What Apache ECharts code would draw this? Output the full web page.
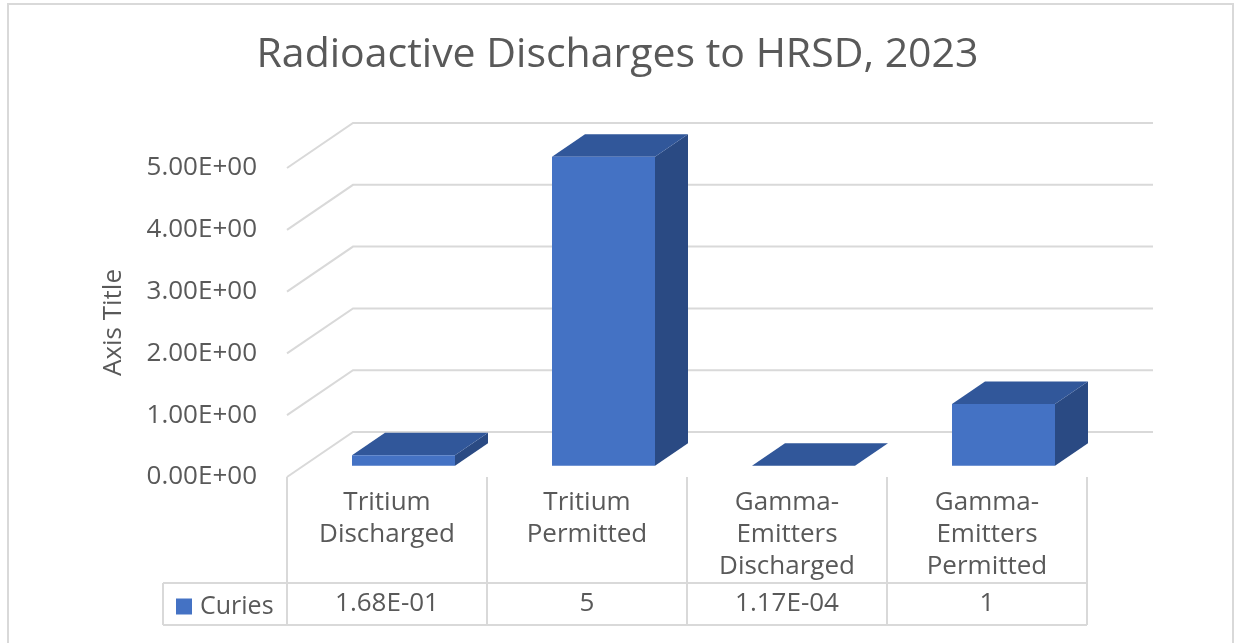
<!DOCTYPE html>
<html>
<head>
<meta charset="utf-8">
<script src="https://cdn.jsdelivr.net/npm/echarts@6/dist/echarts.min.js"></script>
<style>
html,body{margin:0;padding:0;background:#fff;}
#c{width:1235px;height:643px;}
</style>
</head>
<body>
<div id="c"></div>
<script>
// ---- data ----
var categories = ['Tritium Discharged', 'Tritium Permitted', 'Gamma-Emitters Discharged', 'Gamma-Emitters Permitted'];
var curies = [0.168, 5, 0.000117, 1];
var yTicks = [0, 1, 2, 3, 4, 5];
var seriesName = 'Curies';
var titleText = 'Radioactive Discharges to HRSD, 2023';
var yAxisName = 'Axis Title';

// ---- style constants ----
var FONT = '"Open Sans", "Noto Sans", sans-serif';
var TXT = '#595959';
var GRIDC = '#d9d9d9';
var FRONT = '#4472C4', TOP = '#31579A', SIDE = '#2A4A83';
var FLOOR_DX = 66, FLOOR_DY = -45;   // full depth of the 3D floor
var BAR_FRAC = 0.515;                // front-face width / band width

function sciLabel(v) {
  var parts = v.toExponential(2).split('e');
  var e = parts[1];
  var sign = e[0] === '-' ? '-' : '+';
  var d = e.replace(/^[+-]/, '');
  if (d.length < 2) d = '0' + d;
  return parts[0] + 'E' + sign + d;
}
function generalLabel(v) {
  return Number.isInteger(v) ? String(v) : sciLabel(v);
}
function wrapCat(s) {
  return s.replace('-', '-\n').replace(' ', '\n');
}

var chart = echarts.init(document.getElementById('c'), null, {renderer: 'canvas'});

var option = {
  backgroundColor: '#fff',
  animation: false,
  title: {
    text: titleText,
    left: 'center',
    top: 30,
    textStyle: {fontFamily: FONT, fontSize: 41, fontWeight: 'normal', color: TXT}
  },
  legend: {
    data: [seriesName],
    left: 171,
    top: 589,
    icon: 'rect',
    itemWidth: 16,
    itemHeight: 16,
    itemGap: 0,
    textStyle: {fontFamily: FONT, fontSize: 25, color: TXT, padding: [0, 0, 0, 3]}
  },
  grid: {left: 287, right: 148, top: 168, bottom: 166},
  xAxis: [{
    type: 'category',
    data: categories,
    boundaryGap: true,
    axisLine: {show: false},
    axisTick: {show: true, length: 148, lineStyle: {color: GRIDC, width: 2}},
    splitLine: {show: false},
    axisLabel: {
      interval: 0, margin: 10, lineHeight: 32,
      fontFamily: FONT, fontSize: 26, color: TXT,
      formatter: wrapCat
    }
  }, {
    type: 'category',
    data: curies.map(generalLabel),
    position: 'bottom',
    boundaryGap: true,
    axisLine: {show: false},
    axisTick: {show: false},
    axisLabel: {
      interval: 0, margin: 112, lineHeight: 30,
      fontFamily: FONT, fontSize: 26, color: TXT
    }
  }],
  yAxis: {
    type: 'value',
    min: 0, max: 5, interval: 1,
    name: yAxisName,
    nameLocation: 'middle',
    nameRotate: 90,
    nameGap: 160,
    nameTextStyle: {fontFamily: FONT, fontSize: 26, color: TXT},
    axisLine: {show: false},
    axisTick: {show: false},
    splitLine: {show: false},
    axisLabel: {margin: 30, fontFamily: FONT, fontSize: 26, color: TXT, formatter: sciLabel}
  },
  graphic: [
    {type: 'rect', shape: {x: 8, y: 4, width: 1225, height: 660}, style: {fill: 'none', stroke: GRIDC, lineWidth: 2}, silent: true},
    {type: 'line', shape: {x1: 163, y1: 583, x2: 1087, y2: 583}, style: {stroke: GRIDC, lineWidth: 2}, silent: true},
    {type: 'line', shape: {x1: 163, y1: 625, x2: 1087, y2: 625}, style: {stroke: GRIDC, lineWidth: 2}, silent: true},
    {type: 'line', shape: {x1: 163, y1: 583, x2: 163, y2: 625}, style: {stroke: GRIDC, lineWidth: 2}, silent: true}
  ],
  series: [{
    type: 'custom',
    name: '_grid',
    silent: true,
    z: 1,
    data: yTicks,
    renderItem: function (params, api) {
      var cs = params.coordSys;
      var y = api.coord([0, api.value(0)])[1];
      return {
        type: 'polyline',
        shape: {points: [[cs.x, y], [cs.x + FLOOR_DX, y + FLOOR_DY], [cs.x + cs.width + FLOOR_DX, y + FLOOR_DY]]},
        style: {stroke: GRIDC, lineWidth: 2, fill: null}
      };
    }
  }, {
    type: 'custom',
    name: seriesName,
    z: 2,
    itemStyle: {color: FRONT},
    data: curies.map(function (v, i) { return [i, v]; }),
    renderItem: function (params, api) {
      var i = api.value(0), v = api.value(1);
      var base = api.coord([i, 0]);
      var topP = api.coord([i, v]);
      var band = api.size([1, 0])[0];
      var w = band * BAR_FRAC;
      var ox = FLOOR_DX * 0.25, oy = FLOOR_DY * 0.25;
      var dx = FLOOR_DX * 0.5, dy = FLOOR_DY * 0.5;
      var L = base[0] - w / 2 + ox, R = base[0] + w / 2 + ox;
      var B = base[1] + oy, T = topP[1] + oy;
      return {
        type: 'group',
        children: [
          {type: 'polygon', shape: {points: [[R, T], [R + dx, T + dy], [R + dx, B + dy], [R, B]]}, style: {fill: SIDE}},
          {type: 'polygon', shape: {points: [[L, T], [R, T], [R + dx, T + dy], [L + dx, T + dy]]}, style: {fill: TOP}},
          {type: 'rect', shape: {x: L, y: T, width: R - L, height: B - T}, style: {fill: FRONT}}
        ]
      };
    }
  }]
};
chart.setOption(option);
</script>
</body>
</html>
